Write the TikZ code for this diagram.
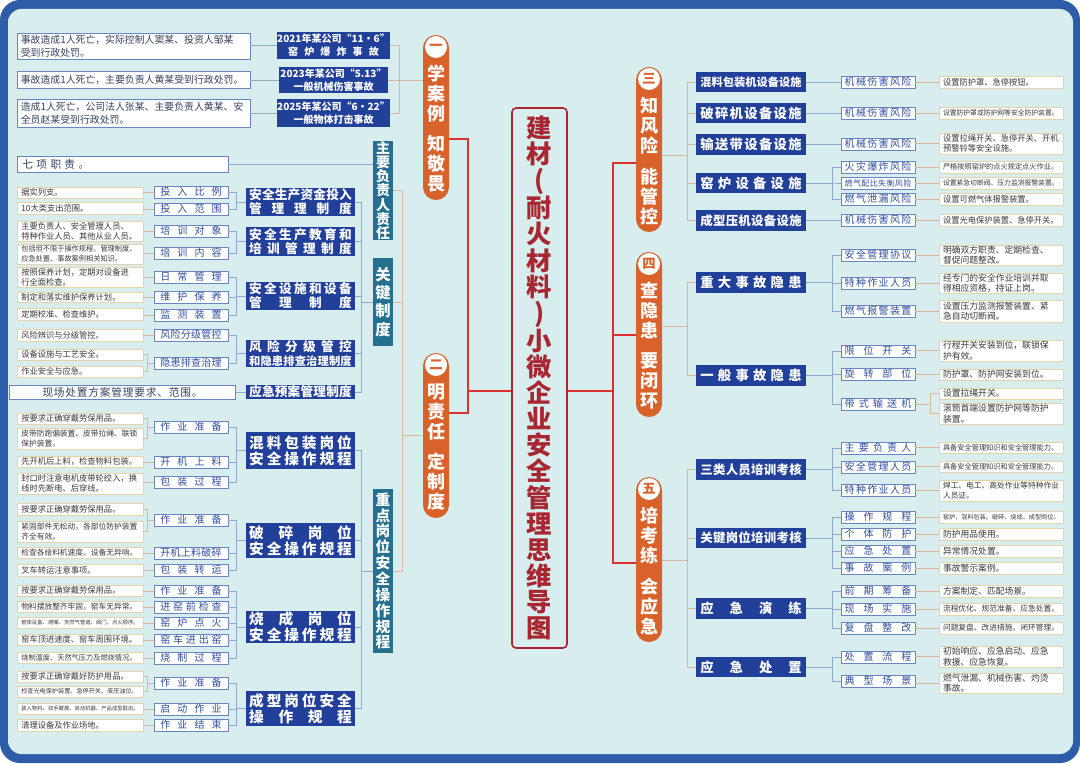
\documentclass[tikz,border=0pt]{standalone}
\usepackage{fontspec}
\setmainfont{Noto Sans CJK SC}
\usetikzlibrary{calc}
\definecolor{bg}{HTML}{D7EDEE}
\definecolor{frame}{HTML}{2D5DA8}
\definecolor{dblue}{HTML}{21409A}
\definecolor{tblue}{HTML}{2F4F9F}
\definecolor{bblue}{HTML}{6A86C2}
\definecolor{tanb}{HTML}{E9D2AE}
\definecolor{tanl}{HTML}{DDB49C}
\definecolor{gline}{HTML}{8FA8CF}
\definecolor{qline}{HTML}{8BB0B5}
\definecolor{orng}{HTML}{D9612A}
\definecolor{tealb}{HTML}{25708F}
\definecolor{rline}{HTML}{D8312E}
\definecolor{tred}{HTML}{A82630}
\definecolor{txt}{HTML}{3A3A3A}
\definecolor{ctxt}{HTML}{33415F}
\makeatletter
\newcommand\sprd[2]{\makebox[#1][s]{\sprd@a#2\@nil}}
\def\sprd@a#1{#1\sprd@b}
\def\sprd@b#1{\ifx#1\@nil\else\hfill#1\expandafter\sprd@b\fi}
\makeatother
\newcommand\fz[2]{\fontsize{#1}{#2}\selectfont}
\newcommand\bx[7]{\node[#6, minimum width=\dimexpr 3pt*(#4-#2)/4\relax, minimum height=\dimexpr 3pt*(#5-#3)/4\relax] (#1) at ({(#2+#4)/2},{(#3+#5)/2}) {#7};}
\newcommand\hc[3]{\draw[#1] (#2.east |- #3.west) -- (#3.west);}
\newcommand\lb[4]{\draw[#1] (#2.east) -| ($(#3.west)+(-#4,0)$) -- (#3.west);}
\newcommand\rb[4]{\draw[#1] (#2.east) -- ++(#4,0) |- (#3.west);}
\tikzset{
 case/.style={draw=bblue, fill=white, line width=0.6pt, text=ctxt, font=\fz{7.4}{9.5}, align=left, text width=169pt, inner sep=0pt},
 yr/.style={fill=dblue, text=white, font=\bfseries\fz{7.5}{10}, align=center, inner sep=0pt},
 l2/.style={fill=dblue, text=white, font=\bfseries\fz{9.5}{10.5}, align=center, inner sep=0pt},
 l3/.style={draw=bblue, fill=white, line width=0.6pt, text=tblue, font=\fz{7.5}{9}, align=center, inner sep=0pt},
 l4/.style={draw=tanb, fill=white, line width=0.6pt, text=txt, font=\fz{6.2}{7.6}, align=left, text width=88pt, inner sep=0pt},
 r4/.style={l4, text width=87pt},
 tl/.style={fill=tealb, text=white, align=center, inner sep=0pt},
 pill/.style={fill=orng, rounded corners=9.7pt, inner sep=0pt},
 num/.style={circle, fill=white, text=orng, minimum size=16.5pt, inner sep=0pt, font=\bfseries\fz{10}{10}},
 ptxt/.style={text=white, font=\bfseries\fz{13.5}{15}, align=center, inner sep=0pt},
 ttl/.style={draw=tred, line width=1.2pt, rounded corners=3pt, fill=bg, text=tred, font=\bfseries\fz{19}{19.6}, align=center, inner sep=0pt},
 cg/.style={draw=gline, line width=0.7pt},
 ct/.style={draw=tanl, line width=0.7pt},
 cq/.style={draw=qline, line width=0.7pt},
 cr/.style={draw=rline, line width=1.3pt}
}
\begin{document}
\begin{tikzpicture}[x=0.75pt,y=-0.75pt]
\useasboundingbox (0,0) rectangle (1080,763);
\fill[frame, rounded corners=15pt] (0,0) rectangle (1080,763);
\fill[bg, rounded corners=10pt] (8,9) rectangle (1073,754);
% centre title
\bx{ttl}{512}{108}{567}{648}{ttl}{建\\材\\(\\耐\\火\\材\\料\\)\\小\\微\\企\\业\\安\\全\\管\\理\\思\\维\\导\\图}
% pills
\bx{p1}{423}{35}{449}{200}{pill}{}
\node[num] (p1n) at (436,47) {一};
\node[ptxt] (p1a) at (436,94) {学\\案\\例};
\node[ptxt] (p1b) at (436,164) {知\\敬\\畏};
\bx{p2}{423}{353}{449}{518}{pill}{}
\node[num] (p2n) at (436,365) {二};
\node[ptxt] (p2a) at (436,412) {明\\责\\任};
\node[ptxt] (p2b) at (436,482) {定\\制\\度};
\bx{p3}{636}{67}{662}{232}{pill}{}
\node[num] (p3n) at (649,79) {三};
\node[ptxt] (p3a) at (649,126) {知\\风\\险};
\node[ptxt] (p3b) at (649,196) {能\\管\\控};
\bx{p4}{636}{252}{662}{417}{pill}{}
\node[num] (p4n) at (649,264) {四};
\node[ptxt] (p4a) at (649,311) {查\\隐\\患};
\node[ptxt] (p4b) at (649,381) {要\\闭\\环};
\bx{p5}{636}{477}{662}{642}{pill}{}
\node[num] (p5n) at (649,489) {五};
\node[ptxt] (p5a) at (649,536) {培\\考\\练};
\node[ptxt] (p5b) at (649,606) {会\\应\\急};
% red connectors
\coordinate (RL1) at (468,139); \coordinate (RL2) at (468,413); \coordinate (RL0) at (468,391);
\draw[cr] (p1.east |- RL1) -- (RL1) -- (RL2) -- (p2.east |- RL2);
\draw[cr] (ttl.west |- RL0) -- (RL0);
\coordinate (RR3) at (613,163); \coordinate (RR4) at (613,335); \coordinate (RR5) at (613,563); \coordinate (RR0) at (613,391);
\draw[cr] (p3.west |- RR3) -- (RR3) -- (RR5) -- (p5.west |- RR5);
\draw[cr] (RR4) -- (p4.west |- RR4);
\draw[cr] (ttl.east |- RR0) -- (RR0);
% ===== top-left: cases
\bx{c1}{17}{33}{250}{59}{case}{事故造成1人死亡，实际控制人窦某、投资人邹某\\受到行政处罚。}
\bx{c2}{17}{71}{250}{88}{case}{事故造成1人死亡，主要负责人黄某受到行政处罚。}
\bx{c3}{17}{99}{250}{127}{case}{造成1人死亡，公司法人张某、主要负责人黄某、安\\全员赵某受到行政处罚。}
\bx{y1}{279}{32}{388}{59}{yr}{2021年某公司“11·6”\\\sprd{68pt}{窑炉爆炸事故}}
\bx{y2}{279}{67}{388}{93}{yr}{2023年某公司“5.13”\\一般机械伤害事故}
\bx{y3}{279}{99}{388}{127}{yr}{2025年某公司“6·22”\\一般物体打击事故}
\hc{cq}{c1}{y1} \hc{cq}{c2}{y2} \hc{cq}{c3}{y3}
\coordinate (B1) at (399,80);
\draw[ct] (y1.east) -| (B1); \draw[ct] (y2.east) -| (B1); \draw[ct] (y3.east) -| (B1);
\draw[ct] (B1) -- (p1.west |- B1);
% ===== left: teal boxes
\bx{t1}{373}{141}{393}{240}{tl, font=\bfseries\fz{10.5}{10.6}}{主\\要\\负\\责\\人\\责\\任}
\bx{t2}{373}{258}{393}{346}{tl, font=\bfseries\fz{11.5}{13.7}}{关\\键\\制\\度}
\bx{t3}{373}{489}{393}{653}{tl, font=\bfseries\fz{11}{11.9}}{重\\点\\岗\\位\\安\\全\\操\\作\\规\\程}
\lb{ct}{t1}{p2}{20} \lb{ct}{t2}{p2}{20} \lb{ct}{t3}{p2}{20}
\bx{zz}{17}{156}{228}{172}{case, font=\fz{8}{9}, text width=150pt}{\sprd{50pt}{七项职责。}}
\draw[cg] (zz.east) -- (zz.east -| t1.west);
% key systems
\bx{k1}{246}{188}{355}{216}{l2}{\sprd{77pt}{安全生产资金投入}\\\sprd{77pt}{管理理制度}}
\bx{k2}{246}{227}{355}{256}{l2}{\sprd{77pt}{安全生产教育和}\\\sprd{77pt}{培训管理制度}}
\bx{k3}{246}{282}{355}{310}{l2}{\sprd{77pt}{安全设施和设备}\\\sprd{77pt}{管理制度}}
\bx{k4}{246}{340}{355}{367}{l2}{\sprd{77pt}{风险分级管控}\\{\fz{8.5}{10.5}\sprd{77pt}{和隐患排查治理制度}}}
\bx{k5}{246}{385}{355}{399}{l2}{\sprd{77pt}{应急预案管理制度}}
\lb{cg}{k1}{t2}{11} \lb{cg}{k2}{t2}{11} \lb{cg}{k3}{t2}{11} \lb{cg}{k4}{t2}{11} \lb{cg}{k5}{t2}{11}
\bx{m1}{154}{186}{228}{198}{l3}{\sprd{46pt}{投入比例}}
\bx{m2}{154}{203}{228}{215}{l3}{\sprd{46pt}{投入范围}}
\bx{m3}{154}{225}{228}{237}{l3}{\sprd{46pt}{培训对象}}
\bx{m4}{154}{247}{228}{259}{l3}{\sprd{46pt}{培训内容}}
\bx{m5}{154}{271}{228}{283}{l3}{\sprd{46pt}{日常管理}}
\bx{m6}{154}{291}{228}{303}{l3}{\sprd{46pt}{维护保养}}
\bx{m7}{154}{309}{228}{321}{l3}{\sprd{46pt}{监测装置}}
\bx{m8}{154}{329}{228}{341}{l3}{\sprd{46pt}{风险分级管控}}
\bx{m9}{154}{357}{228}{369}{l3}{\sprd{46pt}{隐患排查治理}}
\lb{cg}{m1}{k1}{9} \lb{cg}{m2}{k1}{9} \lb{cg}{m3}{k2}{9} \lb{cg}{m4}{k2}{9}
\lb{cg}{m5}{k3}{9} \lb{cg}{m6}{k3}{9} \lb{cg}{m7}{k3}{9} \lb{cg}{m8}{k4}{9} \lb{cg}{m9}{k4}{9}
\bx{n1}{17}{187}{143}{198}{l4}{据实列支。}
\bx{n2}{17}{202}{143}{214}{l4}{10大类支出范围。}
\bx{n3}{17}{221}{143}{241}{l4}{主要负责人、安全管理人员、\\特种作业人员、其他从业人员。}
\bx{n4}{17}{244}{143}{264}{l4, font=\fz{5.4}{7.6}}{包括但不限于操作规程、管理制度、\\应急处置、事故案例相关知识。}
\bx{n5}{17}{267}{143}{287}{l4}{按照保养计划，定期对设备进\\行全面检查。}
\bx{n6}{17}{292}{143}{302}{l4}{制定和落实维护保养计划。}
\bx{n7}{17}{308}{143}{320}{l4}{定期校准、检查维护。}
\bx{n8}{17}{329}{143}{341}{l4}{风险辨识与分级管控。}
\bx{n9}{17}{349}{143}{360}{l4}{设备设施与工艺安全。}
\bx{n10}{17}{366}{143}{377}{l4}{作业安全与应急。}
\bx{n11}{17}{385}{228}{399}{case, font=\fz{8}{9}, align=center}{\sprd{120pt}{现场处置方案管理要求、范围。}}
\hc{ct}{n1}{m1} \hc{ct}{n2}{m2} \hc{ct}{n3}{m3} \hc{ct}{n4}{m4} \hc{ct}{n5}{m5}
\hc{ct}{n6}{m6} \hc{ct}{n7}{m7} \hc{ct}{n8}{m8} \lb{ct}{n9}{m9}{6} \lb{ct}{n10}{m9}{6}
\hc{cg}{n11}{k5}
% key posts
\bx{q1}{246}{432}{355}{469}{l2, font=\bfseries\fz{11}{12}}{\sprd{77pt}{混料包装岗位}\\\sprd{77pt}{安全操作规程}}
\bx{q2}{246}{523}{355}{558}{l2, font=\bfseries\fz{11}{12}}{\sprd{77pt}{破碎岗位}\\\sprd{77pt}{安全操作规程}}
\bx{q3}{246}{611}{355}{643}{l2, font=\bfseries\fz{11}{12}}{\sprd{77pt}{烧成岗位}\\\sprd{77pt}{安全操作规程}}
\bx{q4}{246}{691}{355}{726}{l2, font=\bfseries\fz{11}{12}}{\sprd{77pt}{成型岗位安全}\\\sprd{77pt}{操作规程}}
\lb{cg}{q1}{t3}{11} \lb{cg}{q2}{t3}{11} \lb{cg}{q3}{t3}{11} \lb{cg}{q4}{t3}{11}
\bx{r1}{154}{421}{228}{433}{l3}{\sprd{46pt}{作业准备}}
\bx{r2}{154}{456}{228}{468}{l3}{\sprd{46pt}{开机上料}}
\bx{r3}{154}{476}{228}{488}{l3}{\sprd{46pt}{包装过程}}
\bx{r4}{154}{514}{228}{526}{l3}{\sprd{46pt}{作业准备}}
\bx{r5}{154}{547}{228}{559}{l3}{\sprd{46pt}{开机上料破碎}}
\bx{r6}{154}{564}{228}{576}{l3}{\sprd{46pt}{包装转运}}
\bx{r7}{154}{585}{228}{597}{l3}{\sprd{46pt}{作业准备}}
\bx{r8}{154}{601}{228}{613}{l3}{\sprd{46pt}{进窑前检查}}
\bx{r9}{154}{617}{228}{629}{l3}{\sprd{46pt}{窑炉点火}}
\bx{r10}{154}{634}{228}{646}{l3}{\sprd{46pt}{窑车进出窑}}
\bx{r11}{154}{652}{228}{664}{l3}{\sprd{46pt}{烧制过程}}
\bx{r12}{154}{677}{228}{689}{l3}{\sprd{46pt}{作业准备}}
\bx{r13}{154}{703}{228}{715}{l3}{\sprd{46pt}{启动作业}}
\bx{r14}{154}{719}{228}{731}{l3}{\sprd{46pt}{作业结束}}
\lb{cg}{r1}{q1}{9} \lb{cg}{r2}{q1}{9} \lb{cg}{r3}{q1}{9}
\lb{cg}{r4}{q2}{9} \lb{cg}{r5}{q2}{9} \lb{cg}{r6}{q2}{9}
\lb{cg}{r7}{q3}{9} \lb{cg}{r8}{q3}{9} \lb{cg}{r9}{q3}{9} \lb{cg}{r10}{q3}{9} \lb{cg}{r11}{q3}{9}
\lb{cg}{r12}{q4}{9} \lb{cg}{r13}{q4}{9} \lb{cg}{r14}{q4}{9}
\bx{s1}{17}{413}{143}{424}{l4}{按要求正确穿戴劳保用品。}
\bx{s2}{17}{428}{143}{449}{l4, font=\fz{5.8}{7.6}}{皮带防跑偏装置、皮带拉绳、联锁\\保护装置。}
\bx{s3}{17}{456}{143}{467}{l4}{先开机后上料，检查物料包装。}
\bx{s4}{17}{473}{143}{494}{l4}{封口时注意电机皮带轮绞入，换\\线时先断电、后穿线。}
\bx{s5}{17}{503}{143}{515}{l4}{按要求正确穿戴劳保用品。}
\bx{s6}{17}{521}{143}{542}{l4, font=\fz{5.8}{7.6}}{紧固部件无松动，各部位防护装置\\齐全有效。}
\bx{s7}{17}{547}{143}{558}{l4, font=\fz{5.8}{7.6}}{检查各给料机速度、设备无异响。}
\bx{s8}{17}{564}{143}{576}{l4}{叉车转运注意事项。}
\bx{s9}{17}{585}{143}{596}{l4}{按要求正确穿戴劳保用品。}
\bx{s10}{17}{601}{143}{612}{l4, font=\fz{5.8}{7.6}}{物料摆放整齐牢固，窑车无异常。}
\bx{s11}{17}{617}{143}{628}{l4, font=\fz{4}{5}}{窑体设备、烧嘴、天然气管道、阀门、点火顺序。}
\bx{s12}{17}{634}{143}{645}{l4}{窑车顶进速度、窑车周围环境。}
\bx{s13}{17}{652}{143}{663}{l4, font=\fz{5.4}{7}}{烧制温度、天然气压力及燃烧情况。}
\bx{s14}{17}{671}{143}{682}{l4}{按要求正确穿戴好防护用品。}
\bx{s15}{17}{686}{143}{697}{l4, font=\fz{4.6}{6}}{检查光电保护装置、急停开关、液压油位。}
\bx{s16}{17}{703}{143}{714}{l4, font=\fz{4}{5}}{装入物料、双手撤离、启动机器、产品成型取出。}
\bx{s17}{17}{719}{143}{731}{l4}{清理设备及作业场地。}
\lb{ct}{s1}{r1}{6} \lb{ct}{s2}{r1}{6} \hc{ct}{s3}{r2} \hc{ct}{s4}{r3}
\lb{ct}{s5}{r4}{6} \lb{ct}{s6}{r4}{6} \hc{ct}{s7}{r5} \hc{ct}{s8}{r6}
\hc{ct}{s9}{r7} \hc{ct}{s10}{r8} \hc{ct}{s11}{r9} \hc{ct}{s12}{r10} \hc{ct}{s13}{r11}
\lb{ct}{s14}{r12}{6} \lb{ct}{s15}{r12}{6} \hc{ct}{s16}{r13} \hc{ct}{s17}{r14}
% ===== right side
\bx{R1}{696}{72}{806}{92}{l2, font=\bfseries\fz{8.4}{9}}{\sprd{76pt}{混料包装机设备设施}}
\bx{R2}{696}{103}{806}{123}{l2, font=\bfseries\fz{10}{10}}{\sprd{76pt}{破碎机设备设施}}
\bx{R3}{696}{134}{806}{155}{l2, font=\bfseries\fz{10}{10}}{\sprd{76pt}{输送带设备设施}}
\bx{R4}{696}{173}{806}{193}{l2, font=\bfseries\fz{10}{10}}{\sprd{76pt}{窑炉设备设施}}
\bx{R5}{696}{210}{806}{231}{l2, font=\bfseries\fz{9.3}{10}}{\sprd{76pt}{成型压机设备设施}}
\bx{R6}{696}{272}{806}{293}{l2, font=\bfseries\fz{10}{10}}{\sprd{76pt}{重大事故隐患}}
\bx{R7}{696}{365}{806}{386}{l2, font=\bfseries\fz{10}{10}}{\sprd{76pt}{一般事故隐患}}
\bx{R8}{696}{459}{806}{480}{l2, font=\bfseries\fz{9.3}{10}}{\sprd{76pt}{三类人员培训考核}}
\bx{R9}{696}{528}{806}{548}{l2, font=\bfseries\fz{9.3}{10}}{\sprd{76pt}{关键岗位培训考核}}
\bx{R10}{696}{598}{806}{619}{l2, font=\bfseries\fz{10}{10}}{\sprd{76pt}{应急演练}}
\bx{R11}{696}{657}{806}{677}{l2, font=\bfseries\fz{10}{10}}{\sprd{76pt}{应急处置}}
\coordinate (P3) at (687,155); \draw[ct] (p3.east |- P3) -- (P3);
\draw[ct] (P3) |- (R1.west); \draw[ct] (P3) |- (R2.west); \draw[ct] (P3) |- (R3.west); \draw[ct] (P3) |- (R4.west); \draw[ct] (P3) |- (R5.west);
\coordinate (P4) at (687,326); \draw[ct] (p4.east |- P4) -- (P4);
\draw[ct] (P4) |- (R6.west); \draw[ct] (P4) |- (R7.west);
\coordinate (P5) at (687,560); \draw[ct] (p5.east |- P5) -- (P5);
\draw[ct] (P5) |- (R8.west); \draw[ct] (P5) |- (R9.west); \draw[ct] (P5) |- (R10.west); \draw[ct] (P5) |- (R11.west);
\bx{S1}{841}{76}{915}{88}{l3}{\sprd{50pt}{机械伤害风险}}
\bx{S2}{841}{107}{915}{119}{l3}{\sprd{50pt}{机械伤害风险}}
\bx{S3}{841}{138}{915}{150}{l3}{\sprd{50pt}{机械伤害风险}}
\bx{S4}{841}{161}{915}{173}{l3}{\sprd{50pt}{火灾爆炸风险}}
\bx{S5}{841}{177}{915}{189}{l3, font=\fz{6}{7}}{\sprd{50pt}{燃气配比失衡风险}}
\bx{S6}{841}{193}{915}{205}{l3}{\sprd{50pt}{燃气泄漏风险}}
\bx{S7}{841}{214}{915}{226}{l3}{\sprd{50pt}{机械伤害风险}}
\bx{S8}{841}{249}{915}{261}{l3}{\sprd{50pt}{安全管理协议}}
\bx{S9}{841}{277}{915}{289}{l3}{\sprd{50pt}{特种作业人员}}
\bx{S10}{841}{305}{915}{317}{l3}{\sprd{50pt}{燃气报警装置}}
\bx{S11}{841}{345}{915}{357}{l3}{\sprd{50pt}{限位开关}}
\bx{S12}{841}{368}{915}{380}{l3}{\sprd{50pt}{旋转部位}}
\bx{S13}{841}{398}{915}{410}{l3}{\sprd{50pt}{带式输送机}}
\bx{S14}{841}{442}{915}{454}{l3}{\sprd{50pt}{主要负责人}}
\bx{S15}{841}{461}{915}{473}{l3}{\sprd{50pt}{安全管理人员}}
\bx{S16}{841}{484}{915}{496}{l3}{\sprd{50pt}{特种作业人员}}
\bx{S17}{841}{511}{915}{523}{l3}{\sprd{50pt}{操作规程}}
\bx{S18}{841}{528}{915}{540}{l3}{\sprd{50pt}{个体防护}}
\bx{S19}{841}{545}{915}{557}{l3}{\sprd{50pt}{应急处置}}
\bx{S20}{841}{562}{915}{574}{l3}{\sprd{50pt}{事故案例}}
\bx{S21}{841}{585}{915}{597}{l3}{\sprd{50pt}{前期筹备}}
\bx{S22}{841}{603}{915}{615}{l3}{\sprd{50pt}{现场实施}}
\bx{S23}{841}{622}{915}{634}{l3}{\sprd{50pt}{复盘整改}}
\bx{S24}{841}{651}{915}{663}{l3}{\sprd{50pt}{处置流程}}
\bx{S25}{841}{675}{915}{687}{l3}{\sprd{50pt}{典型场景}}
\hc{cg}{R1}{S1} \hc{cg}{R2}{S2} \hc{cg}{R3}{S3}
\rb{cg}{R4}{S4}{26} \rb{cg}{R4}{S5}{26} \rb{cg}{R4}{S6}{26} \hc{cg}{R5}{S7}
\rb{cg}{R6}{S8}{26} \rb{cg}{R6}{S9}{26} \rb{cg}{R6}{S10}{26}
\rb{cg}{R7}{S11}{26} \rb{cg}{R7}{S12}{26} \rb{cg}{R7}{S13}{26}
\rb{cg}{R8}{S14}{26} \rb{cg}{R8}{S15}{26} \rb{cg}{R8}{S16}{26}
\rb{cg}{R9}{S17}{26} \rb{cg}{R9}{S18}{26} \rb{cg}{R9}{S19}{26} \rb{cg}{R9}{S20}{26}
\rb{cg}{R10}{S21}{26} \rb{cg}{R10}{S22}{26} \rb{cg}{R10}{S23}{26}
\rb{cg}{R11}{S24}{26} \rb{cg}{R11}{S25}{26}
\bx{T1}{939}{76}{1063}{88}{r4}{设置防护罩、急停按钮。}
\bx{T2}{939}{107}{1063}{119}{r4, font=\fz{5.1}{7}}{设置防护罩或防护网等安全防护装置。}
\bx{T3}{939}{133}{1063}{154}{r4}{设置拉绳开关、急停开关、开机\\预警铃等安全设施。}
\bx{T4}{939}{161}{1063}{173}{r4, font=\fz{5.4}{7}}{严格按照窑炉的点火规定点火作业。}
\bx{T5}{939}{177}{1063}{189}{r4, font=\fz{5.1}{7}}{设置紧急切断阀、压力监测报警装置。}
\bx{T6}{939}{193}{1063}{205}{r4}{设置可燃气体报警装置。}
\bx{T7}{939}{214}{1063}{226}{r4}{设置光电保护装置、急停开关。}
\bx{T8}{939}{245}{1063}{265}{r4, font=\fz{6.6}{7.8}}{明确双方职责、定期检查、\\督促问题整改。}
\bx{T9}{939}{273}{1063}{293}{r4, font=\fz{6.6}{7.8}}{经专门的安全作业培训并取\\得相应资格，持证上岗。}
\bx{T10}{939}{300}{1063}{322}{r4, font=\fz{6.6}{7.8}}{设置压力监测报警装置、紧\\急自动切断阀。}
\bx{T11}{939}{340}{1063}{361}{r4, font=\fz{6.6}{7.8}}{行程开关安装到位，联锁保\\护有效。}
\bx{T12}{939}{369}{1063}{380}{r4, font=\fz{6.6}{7.8}}{防护罩、防护网安装到位。}
\bx{T13}{939}{388}{1063}{399}{r4, font=\fz{6.6}{7.8}}{设置拉绳开关。}
\bx{T14}{939}{403}{1063}{424}{r4, font=\fz{6.6}{7.8}}{滚筒首端设置防护网等防护\\装置。}
\bx{T15}{939}{442}{1063}{453}{r4, font=\fz{5.4}{7}}{具备安全管理知识和安全管理能力。}
\bx{T16}{939}{461}{1063}{472}{r4, font=\fz{5.4}{7}}{具备安全管理知识和安全管理能力。}
\bx{T17}{939}{480}{1063}{501}{r4, font=\fz{5.8}{7.6}}{焊工、电工、高处作业等特种作业\\人员证。}
\bx{T18}{939}{511}{1063}{523}{r4, font=\fz{4.6}{6}}{窑炉、混料包装、破碎、烧成、成型岗位。}
\bx{T19}{939}{528}{1063}{540}{r4, font=\fz{6.6}{7.8}}{防护用品使用。}
\bx{T20}{939}{545}{1063}{557}{r4, font=\fz{6.6}{7.8}}{异常情况处置。}
\bx{T21}{939}{562}{1063}{574}{r4, font=\fz{6.6}{7.8}}{事故警示案例。}
\bx{T22}{939}{585}{1063}{597}{r4, font=\fz{6.6}{7.8}}{方案制定、匹配场景。}
\bx{T23}{939}{603}{1063}{615}{r4, font=\fz{5.8}{7}}{流程优化、规范准备、应急处置。}
\bx{T24}{939}{622}{1063}{634}{r4, font=\fz{5.8}{7}}{问题复盘、改进措施、闭环管理。}
\bx{T25}{939}{646}{1063}{667}{r4, font=\fz{6.6}{7.8}}{初始响应、应急启动、应急\\救援、应急恢复。}
\bx{T26}{939}{673}{1063}{693}{r4, font=\fz{6.6}{7.8}}{燃气泄漏、机械伤害、灼烫\\事故。}
\hc{ct}{S1}{T1} \hc{ct}{S2}{T2} \hc{ct}{S3}{T3} \hc{ct}{S4}{T4} \hc{ct}{S5}{T5}
\hc{ct}{S6}{T6} \hc{ct}{S7}{T7} \hc{ct}{S8}{T8} \hc{ct}{S9}{T9} \hc{ct}{S10}{T10}
\hc{ct}{S11}{T11} \hc{ct}{S12}{T12} \rb{ct}{S13}{T13}{15} \rb{ct}{S13}{T14}{15}
\hc{ct}{S14}{T15} \hc{ct}{S15}{T16} \hc{ct}{S16}{T17} \hc{ct}{S17}{T18} \hc{ct}{S18}{T19}
\hc{ct}{S19}{T20} \hc{ct}{S20}{T21} \hc{ct}{S21}{T22} \hc{ct}{S22}{T23} \hc{ct}{S23}{T24}
\hc{ct}{S24}{T25} \hc{ct}{S25}{T26}
\end{tikzpicture}
\end{document}
